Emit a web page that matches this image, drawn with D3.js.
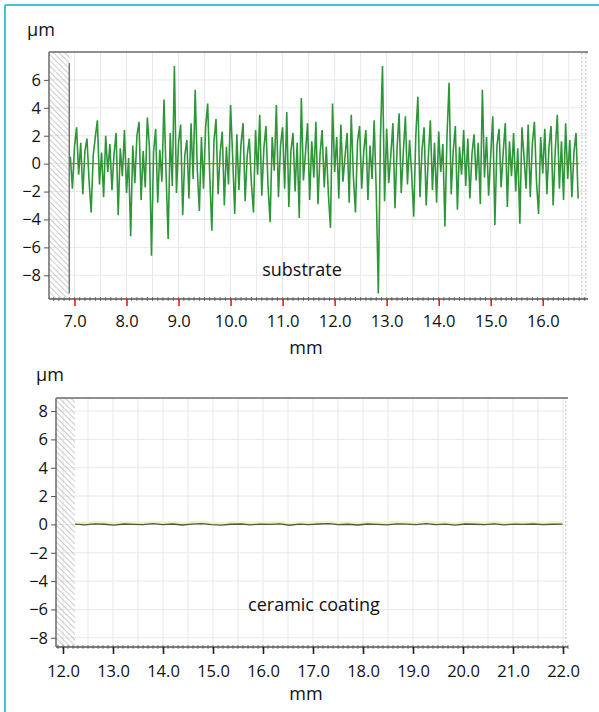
<!DOCTYPE html>
<html>
<head>
<meta charset="utf-8">
<script src="https://cdn.jsdelivr.net/npm/d3@7"></script>
<style>
  html, body { margin: 0; padding: 0; background: #fff; }
  svg text { font-family: "Open Sans", "Noto Sans", sans-serif; fill: #111; }
</style>
</head>
<body>
<div id="chart"></div>
<script>
// substrate profile, µm, sampled every 0.04 mm from 6.92 mm
const substrateStart = 6.92
const substrateStep = 0.04
const substrateValues = [
  0.5, -1.8, 1.2, 2.6, -0.8, 1.5, -2.2, 0.9, 1.8, -1.2,
  -3.5, 0.6, 1.9, 3.1, -1.5, 0.8, -2.4, 2.0, -0.6, 1.4,
  -1.9, 0.7, 2.2, -3.7, 1.1, -0.9, 2.4, -2.1, 0.4, -5.2,
  1.3, -1.4, 2.0, 3.0, -2.6, 0.9, -1.7, 3.3, 1.2, -6.6,
  0.8, 2.5, -2.8, 1.0, -1.3, 4.6, -0.7, -5.4, 2.2, -1.6,
  7.0, -2.1, 1.5, 2.8, -3.7, 0.6, 1.7, -2.5, 2.9, -1.1,
  5.3, -0.4, -3.4, 1.9, -1.8, 2.6, 4.3, -0.9, -4.8, 1.6,
  3.2, -2.2, 0.8, 2.3, -3.0, 1.2, -1.5, 4.2, 0.5, -3.6,
  2.1, -1.9, 1.4, 2.9, -2.7, 0.6, 1.8, -1.4, -3.5, 2.4,
  -0.8, 3.5, -2.3, 1.1, 2.7, -1.6, -4.2, 1.9, -0.5, 4.2,
  -2.4, 1.3, 2.6, -1.8, 3.7, -3.1, 0.9, 2.2, -2.0, 1.5,
  -3.9, 4.7, -1.2, 0.8, 2.9, -2.6, 1.6, -1.0, 3.0, -2.9,
  0.7, 2.4, -1.7, 1.2, -2.2, -4.6, 4.3, -0.6, 1.9, -2.5,
  2.8, -1.3, 0.5, 2.2, -2.8, 3.5, -0.9, -3.5, 1.6, 2.7,
  -1.8, 0.9, 2.4, -2.6, 1.3, -1.1, 3.1, -2.0, -9.3, 1.8,
  7.0, -2.7, 2.5, -1.4, 0.6, 2.9, -3.2, 1.1, 3.6, -2.1,
  0.8, 3.4, -1.5, 1.7, -0.7, -3.8, 2.0, 4.8, -2.4, 1.0,
  2.6, -3.0, 0.4, 3.1, -1.9, 1.5, -2.8, 2.3, -0.6, 1.4,
  -4.5, 2.0, 5.8, -2.2, 0.9, 2.7, -3.3, 1.2, -0.8, 2.4,
  -1.6, 1.8, -2.5, 0.7, 2.1, -1.2, 1.5, -2.9, 5.3, -1.0,
  1.9, -2.3, 0.6, 3.4, -4.4, 1.3, 2.5, -1.7, 0.8, 2.9,
  -3.1, 1.6, -0.9, 2.2, -2.0, 1.1, -4.3, 2.6, 0.5, -1.8,
  2.8, -2.4, 1.4, 3.0, -1.3, -3.6, 1.9, -0.7, 2.5, -2.2,
  1.2, 2.7, -3.0, 0.9, 3.5, -1.8, 1.6, -2.6, 2.9, -1.1,
  1.7, -2.4, 0.8, 2.2, -2.5
]

// ceramic coating profile, µm, sampled every 0.195 mm from 12.24 mm
const coatingStart = 12.24
const coatingStep = 0.195
const coatingValues = [
  0.02, -0.03, 0.04, 0.01, -0.05, 0.03, 0.00, -0.02, 0.05, -0.01,
  0.03, -0.04, 0.02, 0.06, -0.02, -0.05, 0.01, 0.03, -0.03, 0.02,
  0.00, 0.04, -0.06, 0.02, -0.01, 0.03, 0.05, -0.02, 0.01, -0.04,
  0.03, 0.00, -0.03, 0.04, 0.02, -0.02, 0.06, -0.01, 0.02, -0.05,
  0.03, 0.01, -0.02, 0.04, -0.03, 0.02, 0.00, 0.03, -0.02, 0.01,
  0.02
]

const topXTicks = [7, 8, 9, 10, 11, 12, 13, 14, 15, 16]
const topYTicks = [-8, -6, -4, -2, 0, 2, 4, 6]
const bottomXTicks = [12, 13, 14, 15, 16, 17, 18, 19, 20, 21, 22]
const bottomYTicks = [-8, -6, -4, -2, 0, 2, 4, 6, 8]

const width = 599
const height = 712

const svg = d3.select("#chart")
  .append("svg")
  .attr("width", width)
  .attr("height", height)
  .attr("viewBox", [0, 0, width, height])

svg.append("rect").attr("width", width).attr("height", height).attr("fill", "#fff")

const defs = svg.append("defs")
const hatch = defs.append("pattern")
  .attr("id", "hatch")
  .attr("patternUnits", "userSpaceOnUse")
  .attr("width", 4).attr("height", 4)
  .attr("patternTransform", "rotate(-45)")
hatch.append("line")
  .attr("x1", 0).attr("y1", 0).attr("x2", 0).attr("y2", 4)
  .attr("stroke", "#a8a8a8").attr("stroke-width", 1.2)
const dots = defs.append("pattern")
  .attr("id", "dots")
  .attr("patternUnits", "userSpaceOnUse")
  .attr("width", 4).attr("height", 4)
dots.append("rect").attr("x", 1).attr("y", 1).attr("width", 1.5).attr("height", 1.5).attr("fill", "#c8c8c8")

// cyan page frame
svg.append("line").attr("x1", 5).attr("x2", width).attr("y1", 5).attr("y2", 5)
  .attr("stroke", "#3fc5d9").attr("stroke-width", 2)
svg.append("line").attr("x1", 5).attr("x2", 5).attr("y1", 5).attr("y2", height)
  .attr("stroke", "#3fc5d9").attr("stroke-width", 2)

function drawPanel(opt) {
  const { left, right, top, bottom, xDomain, yDomain, xTicks, yTicks } = opt
  const x = d3.scaleLinear(xDomain, [left, right])
  const y = d3.scaleLinear(yDomain, [bottom, top])
  const g = svg.append("g")

  // grid
  const vGrid = d3.range(Math.ceil(xDomain[0] * 2) / 2, xDomain[1], 0.5)
  g.append("g")
    .attr("stroke", "#e8e8e8")
    .attr("stroke-width", 1)
    .call(s => s.selectAll("line.v")
      .data(vGrid)
      .join("line")
      .attr("x1", d => x(d)).attr("x2", d => x(d))
      .attr("y1", top).attr("y2", bottom))
    .call(s => s.selectAll("line.h")
      .data(yTicks)
      .join("line")
      .attr("x1", left).attr("x2", right)
      .attr("y1", d => y(d)).attr("y2", d => y(d)))

  // hatched margins
  g.append("rect")
    .attr("x", left).attr("y", top)
    .attr("width", x(opt.dataStart) - left).attr("height", bottom - top)
    .attr("fill", "url(#hatch)")
  g.append("rect")
    .attr("x", x(opt.dataEnd)).attr("y", top)
    .attr("width", right - x(opt.dataEnd)).attr("height", bottom - top)
    .attr("fill", "url(#dots)")

  // frame
  g.append("line").attr("x1", left).attr("x2", right).attr("y1", top).attr("y2", top)
    .attr("stroke", "#6a6a6a").attr("stroke-width", 1.5)
  g.append("line").attr("x1", left).attr("x2", left).attr("y1", top).attr("y2", bottom)
    .attr("stroke", "#6a6a6a").attr("stroke-width", 1.5)

  // y axis
  const yAxis = d3.axisLeft(y).tickValues(yTicks).tickSize(5).tickFormat(d3.format("d"))
  g.append("g")
    .attr("transform", `translate(${left},0)`)
    .call(yAxis)
    .call(a => a.select(".domain").remove())
    .call(a => a.selectAll(".tick line").attr("stroke", "#555"))
    .call(a => a.selectAll(".tick text")
      .attr("x", opt.yLabelX - left)
      .attr("font-size", 16.5)
      .attr("font-family", "Open Sans, sans-serif")
      .attr("fill", "#111"))

  // x axis minor ticks
  const minor = d3.range(Math.ceil(xDomain[0] * 10), Math.floor(xDomain[1] * 10) + 1).map(d => d / 10)
  g.append("g")
    .attr("stroke", "#777")
    .selectAll("line")
    .data(minor)
    .join("line")
    .attr("x1", d => x(d)).attr("x2", d => x(d))
    .attr("y1", bottom - 2).attr("y2", bottom + 2)

  // x axis
  const xAxis = d3.axisBottom(x).tickValues(xTicks).tickSize(7).tickFormat(d3.format(".1f"))
  g.append("g")
    .attr("transform", `translate(0,${bottom})`)
    .call(xAxis)
    .call(a => a.select(".domain")
      .attr("d", `M${left},0H${right}`)
      .attr("stroke", "#555").attr("stroke-width", 1.5))
    .call(a => a.selectAll(".tick line").attr("stroke", opt.tickColor).attr("stroke-width", 1.6))
    .call(a => a.selectAll(".tick text")
      .attr("y", opt.xLabelY - bottom)
      .attr("dy", 0)
      .attr("font-size", 16.5)
      .attr("font-family", "Open Sans, sans-serif")
      .attr("fill", "#111"))

  // units
  g.append("text").attr("x", opt.unitX).attr("y", opt.unitY).attr("font-size", 18).text("µm")
  g.append("text").attr("x", 306).attr("y", opt.mmY).attr("font-size", 18)
    .attr("text-anchor", "middle").text("mm")
  g.append("text").attr("x", opt.nameX).attr("y", opt.nameY).attr("font-size", 18)
    .attr("text-anchor", "middle").text(opt.name)

  return { x, y, g }
}

// substrate panel
const topPanel = drawPanel({
  left: 49, right: 588, top: 52, bottom: 299,
  xDomain: [6.51, 16.87], yDomain: [-9.7, 8],
  xTicks: topXTicks, yTicks: topYTicks,
  dataStart: 6.9, dataEnd: 16.7,
  yLabelX: 41, xLabelY: 327, tickColor: "#e8201c",
  unitX: 27, unitY: 36, mmY: 354,
  name: "substrate", nameX: 302, nameY: 276
})

const substrate = substrateValues.map((v, i) => [substrateStart + i * substrateStep, v])
const line1 = d3.line().x(d => topPanel.x(d[0])).y(d => topPanel.y(d[1]))

topPanel.g.append("line")
  .attr("x1", topPanel.x(6.9)).attr("x2", topPanel.x(6.9))
  .attr("y1", topPanel.y(7.2)).attr("y2", topPanel.y(-9.3))
  .attr("stroke", "#777").attr("stroke-width", 1.5)

topPanel.g.append("path")
  .datum(substrate)
  .attr("fill", "none")
  .attr("stroke", "#2c9638")
  .attr("stroke-width", 1.6)
  .attr("stroke-linejoin", "miter")
  .attr("d", line1)

topPanel.g.append("line")
  .attr("x1", topPanel.x(6.9)).attr("x2", topPanel.x(16.7))
  .attr("y1", topPanel.y(0)).attr("y2", topPanel.y(0))
  .attr("stroke", "#9a6a44").attr("stroke-width", 1.2).attr("stroke-opacity", 0.85)

// ceramic coating panel
const bottomPanel = drawPanel({
  left: 56, right: 568, top: 398, bottom: 647,
  xDomain: [11.86, 22.1], yDomain: [-8.65, 8.92],
  xTicks: bottomXTicks, yTicks: bottomYTicks,
  dataStart: 12.24, dataEnd: 22.04,
  yLabelX: 48, xLabelY: 677, tickColor: "#222",
  unitX: 36, unitY: 381, mmY: 700,
  name: "ceramic coating", nameX: 314, nameY: 611
})

const coating = coatingValues.map((v, i) => [coatingStart + i * coatingStep, v])
const line2 = d3.line().x(d => bottomPanel.x(d[0])).y(d => bottomPanel.y(d[1]))

bottomPanel.g.append("path")
  .datum(coating)
  .attr("fill", "none")
  .attr("stroke", "#eef2c4")
  .attr("stroke-width", 3)
  .attr("transform", "translate(0,-1.5)")
  .attr("d", line2)

bottomPanel.g.append("path")
  .datum(coating)
  .attr("fill", "none")
  .attr("stroke", "#55553f")
  .attr("stroke-width", 1.3)
  .attr("d", line2)
</script>
</body>
</html>
